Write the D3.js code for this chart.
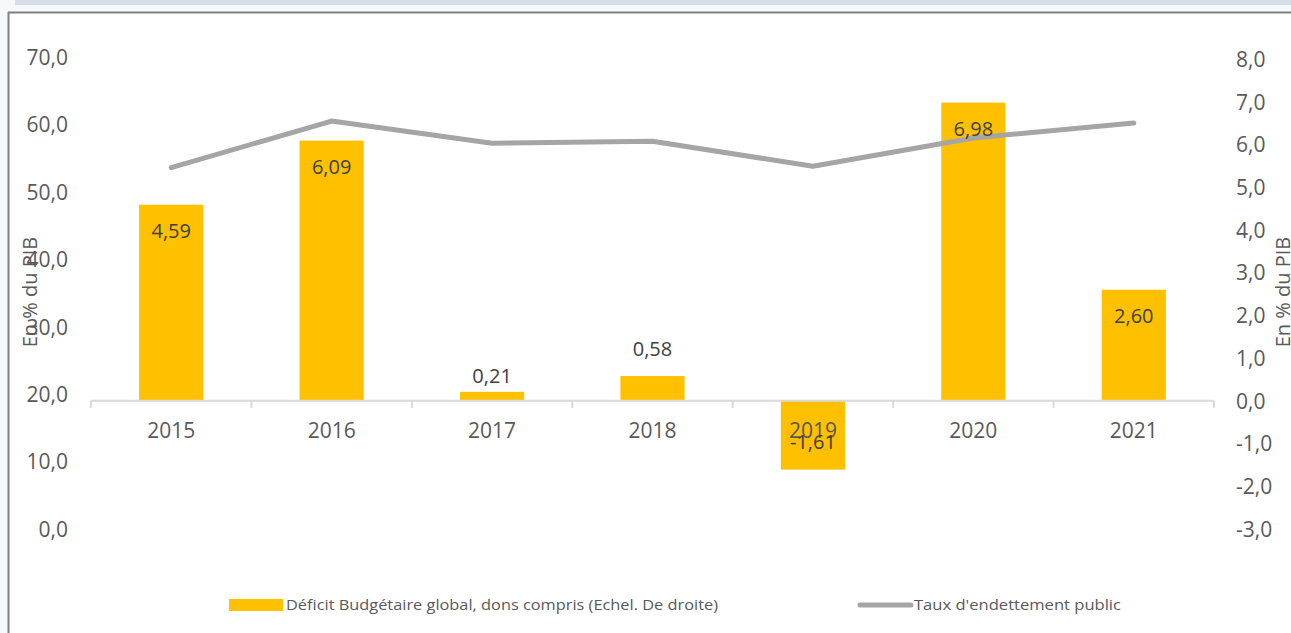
<!DOCTYPE html>
<html>
<head>
<meta charset="utf-8">
<script src="https://cdn.jsdelivr.net/npm/d3@7/dist/d3.min.js"></script>
<style>
  html, body { margin: 0; padding: 0; background: #ffffff; }
  svg { display: block; }
  text { font-family: "Open Sans", "Noto Sans", sans-serif; }
</style>
</head>
<body>
<svg id="chart" width="1291" height="633"></svg>
<script>
// Années
const years = ["2015", "2016", "2017", "2018", "2019", "2020", "2021"];
// Déficit budgétaire global, dons compris (% du PIB, échelle de droite)
const deficit = [4.59, 6.09, 0.21, 0.58, -1.61, 6.98, 2.60];
// Taux d'endettement public (% du PIB, échelle de gauche)
const endettement = [53.6, 60.5, 57.2, 57.5, 53.8, 58.0, 60.2];
// Graduations des axes
const leftTicks = [0, 10, 20, 30, 40, 50, 60, 70];
const rightTicks = [-3, -2, -1, 0, 1, 2, 3, 4, 5, 6, 7, 8];
const legendLabels = ["Déficit Budgétaire global, dons compris (Echel. De droite)", "Taux d'endettement public"];

const svg = d3.select("#chart");
const W = 1291, H = 633;
// Format français : virgule décimale, trait d'union pour le signe moins
const frFormat = spec => {
  const f = d3.format(spec);
  return v => f(v).replace(".", ",").replace("\u2212", "-");
};
const fmt = frFormat(".1f");
const fmt2 = frFormat(".2f");

// Bandeau supérieur et cadre
svg.append("rect").attr("x", 0).attr("y", 0).attr("width", W).attr("height", H).attr("fill", "#f7f8fa");
svg.append("rect").attr("x", 15).attr("y", 0).attr("width", W - 15).attr("height", 5).attr("fill", "#d6dde5");
svg.append("rect").attr("x", 15).attr("y", 5).attr("width", W - 15).attr("height", 7).attr("fill", "#f4f7fb");
svg.append("rect").attr("x", 9).attr("y", 13).attr("width", W - 9).attr("height", H - 13).attr("fill", "#ffffff");
svg.append("line").attr("x1", 8).attr("x2", W).attr("y1", 12.5).attr("y2", 12.5)
  .attr("stroke", "#808080").attr("stroke-width", 2);
svg.append("line").attr("x1", 8.5).attr("x2", 8.5).attr("y1", 12).attr("y2", H)
  .attr("stroke", "#808080").attr("stroke-width", 2);

// Échelles
const x = d3.scaleBand().domain(years).range([91, 1214]).paddingInner(0).paddingOuter(0);
const yL = d3.scaleLinear().domain([0, 70]).range([529, 57]);
const yR = d3.scaleLinear().domain([-3, 8]).range([529, 59]);
const barW = x.bandwidth() * 0.4;

const labelColor = "#595959";

// Axe de gauche
const axL = svg.append("g").attr("transform", "translate(68,0)")
  .call(d3.axisLeft(yL).tickValues(leftTicks).tickFormat(fmt).tickSize(0).tickPadding(0));
axL.select(".domain").remove();
axL.selectAll("text").attr("font-size", 21).attr("fill", labelColor)
  .attr("font-family", "'Open Sans', sans-serif").attr("dy", "0.35em");

// Axe de droite
const axR = svg.append("g").attr("transform", "translate(1236,0)")
  .call(d3.axisRight(yR).tickValues(rightTicks).tickFormat(fmt).tickSize(0).tickPadding(0));
axR.select(".domain").remove();
axR.selectAll("text").attr("font-size", 21).attr("fill", labelColor)
  .attr("font-family", "'Open Sans', sans-serif").attr("dy", "0.35em");

// Titres des axes
svg.append("text").attr("transform", "translate(37,292) rotate(-90)")
  .attr("text-anchor", "middle").attr("font-size", 20).attr("fill", labelColor).text("En % du PIB");
svg.append("text").attr("transform", "translate(1290,292) rotate(-90)")
  .attr("text-anchor", "middle").attr("font-size", 20).attr("fill", labelColor).text("En % du PIB");

// Barres du déficit
const data = years.map((y, i) => ({ year: y, def: deficit[i], dette: endettement[i] }));
svg.append("g").selectAll("rect").data(data).join("rect")
  .attr("x", d => x(d.year) + (x.bandwidth() - barW) / 2)
  .attr("width", barW)
  .attr("y", d => Math.min(yR(d.def), yR(0)))
  .attr("height", d => Math.abs(yR(d.def) - yR(0)))
  .attr("fill", "#ffc000");

// Axe des catégories (à zéro sur l'échelle de droite)
const y0 = yR(0);
const axX = svg.append("g").attr("transform", `translate(0,${y0})`);
axX.append("line").attr("x1", 91).attr("x2", 1214).attr("y1", 0).attr("y2", 0)
  .attr("stroke", "#d9d9d9").attr("stroke-width", 2);
const bounds = years.map(y => x(y)).concat([x(years[years.length - 1]) + x.bandwidth()]);
axX.selectAll("line.tk").data(bounds).join("line").attr("class", "tk")
  .attr("x1", d => d).attr("x2", d => d).attr("y1", 0).attr("y2", 7)
  .attr("stroke", "#d9d9d9").attr("stroke-width", 2);
axX.selectAll("text").data(years).join("text")
  .attr("x", d => x(d) + x.bandwidth() / 2).attr("y", 30)
  .attr("dy", "0.35em").attr("text-anchor", "middle")
  .attr("font-size", 21).attr("fill", labelColor).text(d => d);

// Courbe du taux d'endettement
const line = d3.line().x(d => x(d.year) + x.bandwidth() / 2).y(d => yL(d.dette));
svg.append("path").datum(data).attr("d", line)
  .attr("fill", "none").attr("stroke", "#a5a5a5").attr("stroke-width", 5)
  .attr("stroke-linejoin", "round").attr("stroke-linecap", "round");

// Étiquettes de valeurs des barres
svg.append("g").selectAll("text").data(data).join("text")
  .attr("x", d => x(d.year) + x.bandwidth() / 2)
  .attr("y", d => {
    const top = yR(d.def), h = Math.abs(top - y0);
    if (d.def < 0) return yR(d.def) - 28;
    if (h < 40) return top - (10 + h * 0.7);
    return top + 26;
  })
  .attr("dy", "0.35em").attr("text-anchor", "middle")
  .attr("font-size", 20).attr("fill", "#404040")
  .text(d => fmt2(d.def));

// Légende
const lg = svg.append("g");
lg.append("rect").attr("x", 229).attr("y", 599).attr("width", 54).attr("height", 12).attr("fill", "#ffc000");
lg.append("text").attr("x", 286).attr("y", 605).attr("dy", "0.35em")
  .attr("font-size", 15).attr("fill", labelColor)
  .attr("textLength", 432).attr("lengthAdjust", "spacingAndGlyphs").text(legendLabels[0]);
lg.append("line").attr("x1", 860).attr("x2", 911).attr("y1", 605).attr("y2", 605)
  .attr("stroke", "#a5a5a5").attr("stroke-width", 5).attr("stroke-linecap", "round");
lg.append("text").attr("x", 914).attr("y", 605).attr("dy", "0.35em")
  .attr("font-size", 15).attr("fill", labelColor)
  .attr("textLength", 207).attr("lengthAdjust", "spacingAndGlyphs").text(legendLabels[1]);
</script>
</body>
</html>
